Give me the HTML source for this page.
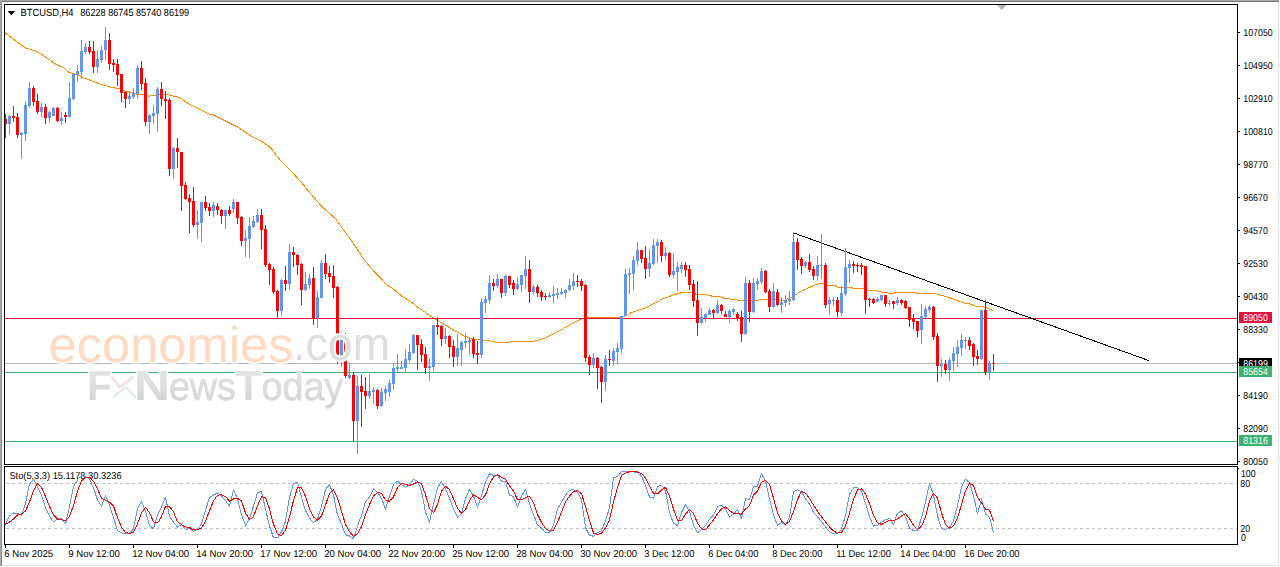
<!DOCTYPE html>
<html><head><meta charset="utf-8"><title>BTCUSD H4</title>
<style>html,body{margin:0;padding:0;background:#fff;overflow:hidden}body{width:1280px;height:567px;font-family:"Liberation Sans",sans-serif}</style></head>
<body>
<svg width="1280" height="567" viewBox="0 0 1280 567" style="display:block;font-family:'Liberation Sans',sans-serif;text-rendering:geometricPrecision">
<rect x="0" y="0" width="1280" height="567" fill="#fff"/>
<g shape-rendering="crispEdges">
<rect x="0" y="0" width="1279" height="1" fill="#a9a9a9"/>
<rect x="0" y="1" width="1279" height="1" fill="#747474"/>
<rect x="0" y="0" width="1" height="566" fill="#a9a9a9"/>
<rect x="1" y="1" width="1" height="565" fill="#8c8c8c"/>
<rect x="1278" y="2" width="1" height="564" fill="#e3e3e3"/>
<rect x="2" y="565" width="1277" height="1" fill="#e3e3e3"/>
</g>
<polyline points="5.0,32.5 7.0,34.5 10.8,37.3 14.9,40.4 19.0,43.5 22.9,46.3 26.0,48.4 30.5,49.3 33.7,50.5 38.1,52.4 43.2,55.4 55.0,63.8 64.0,68.1 69.0,72.5 76.5,74.4 82.8,77.5 92.8,81.2 101.5,84.6 111.5,87.3 120.0,88.8 125.0,91.0 132.5,92.5 137.5,94.4 145.0,94.8 148.8,96.2 151.8,95.8 156.8,95.4 160.5,94.1 166.8,94.1 170.5,95.8 175.5,96.2 180.5,98.2 189.2,104.1 198.0,108.5 209.2,114.1 213.0,114.8 223.0,119.8 236.8,126.6 250.5,135.6 260.5,140.6 268.0,145.6 271.8,149.4 279.2,158.8 283.6,163.8 292.7,172.7 303.0,184.4 307.4,190.0 311.7,194.9 322.9,207.6 335.6,218.7 343.5,229.8 351.1,240.0 364.2,260.0 375.5,273.1 387.8,285.6 392.7,288.6 402.2,296.5 410.2,301.3 419.7,308.6 430.8,316.2 438.0,320.6 449.2,327.5 458.0,332.5 464.2,336.0 472.5,339.0 478.8,339.4 487.5,340.6 496.2,342.2 510.0,342.2 511.2,341.2 533.8,341.2 538.8,340.0 545.0,338.1 552.5,334.4 560.0,330.6 566.2,326.9 572.5,323.1 578.8,320.0 583.8,318.5 591.2,317.5 618.8,317.5 626.9,315.6 631.2,312.5 645.0,308.1 653.8,303.8 662.5,298.8 670.0,296.2 675.0,294.4 683.8,292.2 692.5,292.2 696.2,294.4 703.8,294.4 712.5,296.2 720.0,296.5 723.8,298.1 732.5,299.4 741.2,300.6 758.8,300.6 759.4,299.0 775.0,299.0 778.8,300.6 783.8,300.6 787.5,298.8 791.2,297.5 795.0,295.0 803.8,289.8 812.5,286.2 820.0,283.1 825.0,283.1 827.5,285.0 835.0,285.6 837.5,287.2 851.2,287.2 852.5,288.1 866.2,288.5 868.0,290.2 875.0,290.2 880.0,291.9 887.5,292.5 888.8,293.5 893.8,293.5 895.6,292.2 915.0,292.5 917.0,293.5 935.0,293.5 940.0,295.0 947.5,296.9 957.5,300.6 965.0,303.5 970.0,304.0 976.2,306.5 983.8,306.9 988.8,308.8 992.8,310.6" fill="none" stroke="#FF8C00" stroke-width="1" stroke-linejoin="round" shape-rendering="crispEdges"/>
<g shape-rendering="crispEdges">
<rect x="5" y="363" width="1232" height="1" fill="#b8b8b8"/>
<rect x="5" y="318" width="1232" height="1" fill="#DC143C"/>
<rect x="5" y="372" width="1232" height="1" fill="#3CB371"/>
<rect x="5" y="441" width="1232" height="1" fill="#3CB371"/>
<rect x="591" y="317" width="8" height="1" fill="#FF8C00"/>
</g>
<line x1="793.5" y1="232.9" x2="1149" y2="360.6" stroke="#000" stroke-width="1" shape-rendering="crispEdges"/>
<g shape-rendering="crispEdges">
<rect x="5" y="114" width="1" height="24" fill="#FF0000"/>
<rect x="4" y="119" width="3" height="5" fill="#FF0000"/>
<rect x="9" y="115" width="1" height="20" fill="#6495ED"/>
<rect x="8" y="116" width="3" height="8" fill="#6495ED"/>
<rect x="13" y="106" width="1" height="16" fill="#FF0000"/>
<rect x="12" y="116" width="3" height="2" fill="#FF0000"/>
<rect x="17" y="113" width="1" height="25" fill="#FF0000"/>
<rect x="16" y="117" width="3" height="18" fill="#FF0000"/>
<rect x="21" y="132" width="1" height="27" fill="#6495ED"/>
<rect x="20" y="133" width="3" height="2" fill="#6495ED"/>
<rect x="25" y="101" width="1" height="40" fill="#6495ED"/>
<rect x="24" y="105" width="3" height="29" fill="#6495ED"/>
<rect x="29" y="82" width="1" height="26" fill="#6495ED"/>
<rect x="28" y="88" width="3" height="18" fill="#6495ED"/>
<rect x="33" y="86" width="1" height="20" fill="#FF0000"/>
<rect x="32" y="88" width="3" height="14" fill="#FF0000"/>
<rect x="37" y="94" width="1" height="20" fill="#FF0000"/>
<rect x="36" y="101" width="3" height="11" fill="#FF0000"/>
<rect x="41" y="103" width="1" height="14" fill="#6495ED"/>
<rect x="40" y="107" width="3" height="5" fill="#6495ED"/>
<rect x="45" y="104" width="1" height="20" fill="#FF0000"/>
<rect x="44" y="107" width="3" height="11" fill="#FF0000"/>
<rect x="49" y="111" width="1" height="12" fill="#6495ED"/>
<rect x="48" y="112" width="3" height="6" fill="#6495ED"/>
<rect x="53" y="107" width="1" height="9" fill="#6495ED"/>
<rect x="52" y="108" width="3" height="8" fill="#6495ED"/>
<rect x="57" y="107" width="1" height="15" fill="#FF0000"/>
<rect x="56" y="108" width="3" height="13" fill="#FF0000"/>
<rect x="61" y="112" width="1" height="13" fill="#6495ED"/>
<rect x="60" y="118" width="3" height="3" fill="#6495ED"/>
<rect x="65" y="112" width="1" height="11" fill="#FF0000"/>
<rect x="64" y="115" width="3" height="2" fill="#FF0000"/>
<rect x="69" y="82" width="1" height="35" fill="#6495ED"/>
<rect x="68" y="98" width="3" height="19" fill="#6495ED"/>
<rect x="73" y="73" width="1" height="27" fill="#6495ED"/>
<rect x="72" y="74" width="3" height="25" fill="#6495ED"/>
<rect x="77" y="65" width="1" height="17" fill="#6495ED"/>
<rect x="76" y="71" width="3" height="4" fill="#6495ED"/>
<rect x="81" y="40" width="1" height="39" fill="#6495ED"/>
<rect x="80" y="51" width="3" height="21" fill="#6495ED"/>
<rect x="85" y="43" width="1" height="11" fill="#6495ED"/>
<rect x="84" y="47" width="3" height="5" fill="#6495ED"/>
<rect x="89" y="41" width="1" height="13" fill="#FF0000"/>
<rect x="88" y="47" width="3" height="5" fill="#FF0000"/>
<rect x="93" y="41" width="1" height="32" fill="#FF0000"/>
<rect x="92" y="51" width="3" height="16" fill="#FF0000"/>
<rect x="97" y="50" width="1" height="23" fill="#6495ED"/>
<rect x="96" y="59" width="3" height="8" fill="#6495ED"/>
<rect x="101" y="46" width="1" height="17" fill="#6495ED"/>
<rect x="100" y="50" width="3" height="10" fill="#6495ED"/>
<rect x="105" y="27" width="1" height="33" fill="#6495ED"/>
<rect x="104" y="40" width="3" height="10" fill="#6495ED"/>
<rect x="109" y="33" width="1" height="37" fill="#FF0000"/>
<rect x="108" y="40" width="3" height="24" fill="#FF0000"/>
<rect x="113" y="59" width="1" height="13" fill="#FF0000"/>
<rect x="112" y="63" width="3" height="2" fill="#FF0000"/>
<rect x="117" y="59" width="1" height="27" fill="#FF0000"/>
<rect x="116" y="64" width="3" height="11" fill="#FF0000"/>
<rect x="121" y="74" width="1" height="28" fill="#FF0000"/>
<rect x="120" y="74" width="3" height="19" fill="#FF0000"/>
<rect x="125" y="91" width="1" height="17" fill="#FF0000"/>
<rect x="124" y="92" width="3" height="7" fill="#FF0000"/>
<rect x="129" y="92" width="1" height="12" fill="#6495ED"/>
<rect x="128" y="96" width="3" height="3" fill="#6495ED"/>
<rect x="133" y="88" width="1" height="11" fill="#6495ED"/>
<rect x="132" y="93" width="3" height="4" fill="#6495ED"/>
<rect x="137" y="65" width="1" height="34" fill="#6495ED"/>
<rect x="136" y="68" width="3" height="26" fill="#6495ED"/>
<rect x="141" y="61" width="1" height="29" fill="#FF0000"/>
<rect x="140" y="68" width="3" height="16" fill="#FF0000"/>
<rect x="145" y="78" width="1" height="48" fill="#FF0000"/>
<rect x="144" y="83" width="3" height="39" fill="#FF0000"/>
<rect x="149" y="114" width="1" height="20" fill="#6495ED"/>
<rect x="148" y="115" width="3" height="7" fill="#6495ED"/>
<rect x="153" y="105" width="1" height="19" fill="#6495ED"/>
<rect x="152" y="113" width="3" height="3" fill="#6495ED"/>
<rect x="157" y="87" width="1" height="45" fill="#6495ED"/>
<rect x="156" y="89" width="3" height="25" fill="#6495ED"/>
<rect x="161" y="82" width="1" height="24" fill="#FF0000"/>
<rect x="160" y="89" width="3" height="10" fill="#FF0000"/>
<rect x="165" y="91" width="1" height="28" fill="#FF0000"/>
<rect x="164" y="99" width="3" height="2" fill="#FF0000"/>
<rect x="169" y="98" width="1" height="78" fill="#FF0000"/>
<rect x="168" y="100" width="3" height="69" fill="#FF0000"/>
<rect x="173" y="147" width="1" height="32" fill="#6495ED"/>
<rect x="172" y="148" width="3" height="21" fill="#6495ED"/>
<rect x="177" y="138" width="1" height="30" fill="#FF0000"/>
<rect x="176" y="148" width="3" height="4" fill="#FF0000"/>
<rect x="181" y="152" width="1" height="59" fill="#FF0000"/>
<rect x="180" y="152" width="3" height="34" fill="#FF0000"/>
<rect x="185" y="182" width="1" height="18" fill="#FF0000"/>
<rect x="184" y="185" width="3" height="14" fill="#FF0000"/>
<rect x="189" y="194" width="1" height="39" fill="#FF0000"/>
<rect x="188" y="198" width="3" height="4" fill="#FF0000"/>
<rect x="193" y="187" width="1" height="40" fill="#FF0000"/>
<rect x="192" y="201" width="3" height="24" fill="#FF0000"/>
<rect x="197" y="210" width="1" height="29" fill="#6495ED"/>
<rect x="196" y="222" width="3" height="3" fill="#6495ED"/>
<rect x="201" y="202" width="1" height="40" fill="#6495ED"/>
<rect x="200" y="202" width="3" height="21" fill="#6495ED"/>
<rect x="205" y="196" width="1" height="15" fill="#FF0000"/>
<rect x="204" y="202" width="3" height="6" fill="#FF0000"/>
<rect x="209" y="203" width="1" height="13" fill="#FF0000"/>
<rect x="208" y="207" width="3" height="4" fill="#FF0000"/>
<rect x="213" y="202" width="1" height="15" fill="#6495ED"/>
<rect x="212" y="205" width="3" height="6" fill="#6495ED"/>
<rect x="217" y="203" width="1" height="12" fill="#FF0000"/>
<rect x="216" y="206" width="3" height="4" fill="#FF0000"/>
<rect x="221" y="209" width="1" height="15" fill="#FF0000"/>
<rect x="220" y="210" width="3" height="6" fill="#FF0000"/>
<rect x="225" y="210" width="1" height="19" fill="#6495ED"/>
<rect x="224" y="210" width="3" height="6" fill="#6495ED"/>
<rect x="229" y="206" width="1" height="10" fill="#FF0000"/>
<rect x="228" y="210" width="3" height="4" fill="#FF0000"/>
<rect x="233" y="199" width="1" height="14" fill="#6495ED"/>
<rect x="232" y="202" width="3" height="7" fill="#6495ED"/>
<rect x="237" y="202" width="1" height="22" fill="#FF0000"/>
<rect x="236" y="202" width="3" height="16" fill="#FF0000"/>
<rect x="241" y="216" width="1" height="30" fill="#FF0000"/>
<rect x="240" y="217" width="3" height="24" fill="#FF0000"/>
<rect x="245" y="230" width="1" height="27" fill="#6495ED"/>
<rect x="244" y="238" width="3" height="3" fill="#6495ED"/>
<rect x="249" y="217" width="1" height="41" fill="#6495ED"/>
<rect x="248" y="226" width="3" height="13" fill="#6495ED"/>
<rect x="253" y="216" width="1" height="12" fill="#6495ED"/>
<rect x="252" y="221" width="3" height="6" fill="#6495ED"/>
<rect x="257" y="209" width="1" height="14" fill="#6495ED"/>
<rect x="256" y="215" width="3" height="7" fill="#6495ED"/>
<rect x="261" y="209" width="1" height="40" fill="#FF0000"/>
<rect x="260" y="215" width="3" height="15" fill="#FF0000"/>
<rect x="265" y="225" width="1" height="42" fill="#FF0000"/>
<rect x="264" y="229" width="3" height="36" fill="#FF0000"/>
<rect x="269" y="263" width="1" height="22" fill="#FF0000"/>
<rect x="268" y="264" width="3" height="6" fill="#FF0000"/>
<rect x="273" y="267" width="1" height="27" fill="#FF0000"/>
<rect x="272" y="269" width="3" height="23" fill="#FF0000"/>
<rect x="277" y="290" width="1" height="28" fill="#FF0000"/>
<rect x="276" y="291" width="3" height="20" fill="#FF0000"/>
<rect x="281" y="279" width="1" height="37" fill="#6495ED"/>
<rect x="280" y="280" width="3" height="31" fill="#6495ED"/>
<rect x="285" y="266" width="1" height="25" fill="#FF0000"/>
<rect x="284" y="280" width="3" height="4" fill="#FF0000"/>
<rect x="289" y="244" width="1" height="46" fill="#6495ED"/>
<rect x="288" y="252" width="3" height="32" fill="#6495ED"/>
<rect x="293" y="247" width="1" height="20" fill="#FF0000"/>
<rect x="292" y="252" width="3" height="3" fill="#FF0000"/>
<rect x="297" y="254" width="1" height="21" fill="#FF0000"/>
<rect x="296" y="255" width="3" height="10" fill="#FF0000"/>
<rect x="301" y="263" width="1" height="42" fill="#FF0000"/>
<rect x="300" y="264" width="3" height="26" fill="#FF0000"/>
<rect x="305" y="272" width="1" height="19" fill="#6495ED"/>
<rect x="304" y="284" width="3" height="6" fill="#6495ED"/>
<rect x="309" y="274" width="1" height="15" fill="#6495ED"/>
<rect x="308" y="278" width="3" height="7" fill="#6495ED"/>
<rect x="313" y="267" width="1" height="58" fill="#FF0000"/>
<rect x="312" y="278" width="3" height="40" fill="#FF0000"/>
<rect x="317" y="291" width="1" height="37" fill="#6495ED"/>
<rect x="316" y="297" width="3" height="21" fill="#6495ED"/>
<rect x="321" y="260" width="1" height="38" fill="#6495ED"/>
<rect x="320" y="263" width="3" height="35" fill="#6495ED"/>
<rect x="325" y="254" width="1" height="25" fill="#FF0000"/>
<rect x="324" y="263" width="3" height="11" fill="#FF0000"/>
<rect x="329" y="266" width="1" height="17" fill="#FF0000"/>
<rect x="328" y="273" width="3" height="4" fill="#FF0000"/>
<rect x="333" y="265" width="1" height="33" fill="#FF0000"/>
<rect x="332" y="276" width="3" height="12" fill="#FF0000"/>
<rect x="337" y="286" width="1" height="78" fill="#FF0000"/>
<rect x="336" y="287" width="3" height="68" fill="#FF0000"/>
<rect x="341" y="332" width="1" height="35" fill="#6495ED"/>
<rect x="340" y="336" width="3" height="20" fill="#6495ED"/>
<rect x="345" y="333" width="1" height="45" fill="#FF0000"/>
<rect x="344" y="336" width="3" height="40" fill="#FF0000"/>
<rect x="349" y="363" width="1" height="16" fill="#6495ED"/>
<rect x="348" y="375" width="3" height="3" fill="#6495ED"/>
<rect x="353" y="372" width="1" height="70" fill="#FF0000"/>
<rect x="352" y="375" width="3" height="46" fill="#FF0000"/>
<rect x="357" y="376" width="1" height="78" fill="#6495ED"/>
<rect x="356" y="386" width="3" height="35" fill="#6495ED"/>
<rect x="361" y="375" width="1" height="52" fill="#FF0000"/>
<rect x="360" y="386" width="3" height="6" fill="#FF0000"/>
<rect x="365" y="377" width="1" height="32" fill="#FF0000"/>
<rect x="364" y="391" width="3" height="5" fill="#FF0000"/>
<rect x="369" y="374" width="1" height="25" fill="#6495ED"/>
<rect x="368" y="391" width="3" height="5" fill="#6495ED"/>
<rect x="373" y="387" width="1" height="17" fill="#6495ED"/>
<rect x="372" y="390" width="3" height="2" fill="#6495ED"/>
<rect x="377" y="389" width="1" height="20" fill="#FF0000"/>
<rect x="376" y="390" width="3" height="16" fill="#FF0000"/>
<rect x="381" y="388" width="1" height="19" fill="#6495ED"/>
<rect x="380" y="392" width="3" height="14" fill="#6495ED"/>
<rect x="385" y="386" width="1" height="15" fill="#6495ED"/>
<rect x="384" y="389" width="3" height="4" fill="#6495ED"/>
<rect x="389" y="380" width="1" height="17" fill="#6495ED"/>
<rect x="388" y="383" width="3" height="9" fill="#6495ED"/>
<rect x="393" y="363" width="1" height="27" fill="#6495ED"/>
<rect x="392" y="368" width="3" height="16" fill="#6495ED"/>
<rect x="397" y="354" width="1" height="18" fill="#6495ED"/>
<rect x="396" y="367" width="3" height="2" fill="#6495ED"/>
<rect x="401" y="361" width="1" height="8" fill="#6495ED"/>
<rect x="400" y="367" width="3" height="2" fill="#6495ED"/>
<rect x="405" y="349" width="1" height="23" fill="#6495ED"/>
<rect x="404" y="359" width="3" height="9" fill="#6495ED"/>
<rect x="409" y="344" width="1" height="18" fill="#6495ED"/>
<rect x="408" y="352" width="3" height="8" fill="#6495ED"/>
<rect x="413" y="334" width="1" height="20" fill="#6495ED"/>
<rect x="412" y="335" width="3" height="18" fill="#6495ED"/>
<rect x="417" y="335" width="1" height="35" fill="#FF0000"/>
<rect x="416" y="335" width="3" height="10" fill="#FF0000"/>
<rect x="421" y="339" width="1" height="23" fill="#FF0000"/>
<rect x="420" y="344" width="3" height="11" fill="#FF0000"/>
<rect x="425" y="347" width="1" height="27" fill="#FF0000"/>
<rect x="424" y="354" width="3" height="14" fill="#FF0000"/>
<rect x="429" y="358" width="1" height="23" fill="#6495ED"/>
<rect x="428" y="366" width="3" height="2" fill="#6495ED"/>
<rect x="433" y="325" width="1" height="46" fill="#6495ED"/>
<rect x="432" y="325" width="3" height="42" fill="#6495ED"/>
<rect x="437" y="317" width="1" height="18" fill="#FF0000"/>
<rect x="436" y="325" width="3" height="2" fill="#FF0000"/>
<rect x="441" y="325" width="1" height="21" fill="#FF0000"/>
<rect x="440" y="326" width="3" height="13" fill="#FF0000"/>
<rect x="445" y="328" width="1" height="16" fill="#6495ED"/>
<rect x="444" y="336" width="3" height="3" fill="#6495ED"/>
<rect x="449" y="335" width="1" height="23" fill="#FF0000"/>
<rect x="448" y="336" width="3" height="11" fill="#FF0000"/>
<rect x="453" y="340" width="1" height="27" fill="#FF0000"/>
<rect x="452" y="346" width="3" height="11" fill="#FF0000"/>
<rect x="457" y="334" width="1" height="32" fill="#6495ED"/>
<rect x="456" y="348" width="3" height="9" fill="#6495ED"/>
<rect x="461" y="341" width="1" height="25" fill="#6495ED"/>
<rect x="460" y="342" width="3" height="8" fill="#6495ED"/>
<rect x="465" y="333" width="1" height="15" fill="#6495ED"/>
<rect x="464" y="341" width="3" height="2" fill="#6495ED"/>
<rect x="469" y="338" width="1" height="17" fill="#6495ED"/>
<rect x="468" y="340" width="3" height="2" fill="#6495ED"/>
<rect x="473" y="337" width="1" height="21" fill="#FF0000"/>
<rect x="472" y="339" width="3" height="15" fill="#FF0000"/>
<rect x="477" y="341" width="1" height="23" fill="#FF0000"/>
<rect x="476" y="353" width="3" height="2" fill="#FF0000"/>
<rect x="481" y="298" width="1" height="60" fill="#6495ED"/>
<rect x="480" y="302" width="3" height="53" fill="#6495ED"/>
<rect x="485" y="296" width="1" height="17" fill="#6495ED"/>
<rect x="484" y="299" width="3" height="4" fill="#6495ED"/>
<rect x="489" y="275" width="1" height="29" fill="#6495ED"/>
<rect x="488" y="283" width="3" height="17" fill="#6495ED"/>
<rect x="493" y="279" width="1" height="12" fill="#FF0000"/>
<rect x="492" y="283" width="3" height="3" fill="#FF0000"/>
<rect x="497" y="274" width="1" height="14" fill="#6495ED"/>
<rect x="496" y="279" width="3" height="7" fill="#6495ED"/>
<rect x="501" y="279" width="1" height="19" fill="#FF0000"/>
<rect x="500" y="279" width="3" height="14" fill="#FF0000"/>
<rect x="505" y="275" width="1" height="21" fill="#6495ED"/>
<rect x="504" y="276" width="3" height="17" fill="#6495ED"/>
<rect x="509" y="276" width="1" height="12" fill="#FF0000"/>
<rect x="508" y="276" width="3" height="9" fill="#FF0000"/>
<rect x="513" y="280" width="1" height="15" fill="#FF0000"/>
<rect x="512" y="283" width="3" height="6" fill="#FF0000"/>
<rect x="517" y="277" width="1" height="13" fill="#6495ED"/>
<rect x="516" y="284" width="3" height="5" fill="#6495ED"/>
<rect x="521" y="275" width="1" height="17" fill="#6495ED"/>
<rect x="520" y="275" width="3" height="10" fill="#6495ED"/>
<rect x="525" y="256" width="1" height="33" fill="#6495ED"/>
<rect x="524" y="269" width="3" height="7" fill="#6495ED"/>
<rect x="529" y="260" width="1" height="43" fill="#FF0000"/>
<rect x="528" y="269" width="3" height="23" fill="#FF0000"/>
<rect x="533" y="285" width="1" height="10" fill="#6495ED"/>
<rect x="532" y="287" width="3" height="5" fill="#6495ED"/>
<rect x="537" y="285" width="1" height="12" fill="#FF0000"/>
<rect x="536" y="287" width="3" height="6" fill="#FF0000"/>
<rect x="541" y="290" width="1" height="11" fill="#FF0000"/>
<rect x="540" y="292" width="3" height="5" fill="#FF0000"/>
<rect x="545" y="293" width="1" height="7" fill="#FF0000"/>
<rect x="544" y="296" width="3" height="1" fill="#FF0000"/>
<rect x="549" y="292" width="1" height="6" fill="#6495ED"/>
<rect x="548" y="295" width="3" height="2" fill="#6495ED"/>
<rect x="553" y="286" width="1" height="17" fill="#6495ED"/>
<rect x="552" y="294" width="3" height="2" fill="#6495ED"/>
<rect x="557" y="288" width="1" height="11" fill="#6495ED"/>
<rect x="556" y="293" width="3" height="2" fill="#6495ED"/>
<rect x="561" y="288" width="1" height="7" fill="#6495ED"/>
<rect x="560" y="292" width="3" height="2" fill="#6495ED"/>
<rect x="565" y="289" width="1" height="9" fill="#6495ED"/>
<rect x="564" y="290" width="3" height="3" fill="#6495ED"/>
<rect x="569" y="279" width="1" height="12" fill="#6495ED"/>
<rect x="568" y="285" width="3" height="5" fill="#6495ED"/>
<rect x="573" y="273" width="1" height="17" fill="#6495ED"/>
<rect x="572" y="281" width="3" height="5" fill="#6495ED"/>
<rect x="577" y="275" width="1" height="12" fill="#FF0000"/>
<rect x="576" y="281" width="3" height="1" fill="#FF0000"/>
<rect x="581" y="279" width="1" height="12" fill="#FF0000"/>
<rect x="580" y="281" width="3" height="5" fill="#FF0000"/>
<rect x="585" y="284" width="1" height="78" fill="#FF0000"/>
<rect x="584" y="285" width="3" height="73" fill="#FF0000"/>
<rect x="589" y="355" width="1" height="20" fill="#FF0000"/>
<rect x="588" y="357" width="3" height="8" fill="#FF0000"/>
<rect x="593" y="353" width="1" height="15" fill="#6495ED"/>
<rect x="592" y="358" width="3" height="7" fill="#6495ED"/>
<rect x="597" y="357" width="1" height="32" fill="#FF0000"/>
<rect x="596" y="358" width="3" height="10" fill="#FF0000"/>
<rect x="601" y="366" width="1" height="37" fill="#FF0000"/>
<rect x="600" y="367" width="3" height="15" fill="#FF0000"/>
<rect x="605" y="355" width="1" height="36" fill="#6495ED"/>
<rect x="604" y="359" width="3" height="23" fill="#6495ED"/>
<rect x="609" y="350" width="1" height="16" fill="#FF0000"/>
<rect x="608" y="359" width="3" height="1" fill="#FF0000"/>
<rect x="613" y="348" width="1" height="18" fill="#6495ED"/>
<rect x="612" y="351" width="3" height="10" fill="#6495ED"/>
<rect x="617" y="343" width="1" height="21" fill="#6495ED"/>
<rect x="616" y="348" width="3" height="4" fill="#6495ED"/>
<rect x="621" y="316" width="1" height="37" fill="#6495ED"/>
<rect x="620" y="316" width="3" height="33" fill="#6495ED"/>
<rect x="625" y="269" width="1" height="47" fill="#6495ED"/>
<rect x="624" y="274" width="3" height="42" fill="#6495ED"/>
<rect x="629" y="268" width="1" height="26" fill="#6495ED"/>
<rect x="628" y="273" width="3" height="2" fill="#6495ED"/>
<rect x="633" y="256" width="1" height="34" fill="#6495ED"/>
<rect x="632" y="260" width="3" height="14" fill="#6495ED"/>
<rect x="637" y="242" width="1" height="23" fill="#6495ED"/>
<rect x="636" y="250" width="3" height="11" fill="#6495ED"/>
<rect x="641" y="250" width="1" height="13" fill="#FF0000"/>
<rect x="640" y="250" width="3" height="9" fill="#FF0000"/>
<rect x="645" y="246" width="1" height="33" fill="#FF0000"/>
<rect x="644" y="258" width="3" height="11" fill="#FF0000"/>
<rect x="649" y="249" width="1" height="28" fill="#6495ED"/>
<rect x="648" y="263" width="3" height="6" fill="#6495ED"/>
<rect x="653" y="239" width="1" height="26" fill="#6495ED"/>
<rect x="652" y="245" width="3" height="19" fill="#6495ED"/>
<rect x="657" y="239" width="1" height="24" fill="#6495ED"/>
<rect x="656" y="242" width="3" height="4" fill="#6495ED"/>
<rect x="661" y="240" width="1" height="22" fill="#FF0000"/>
<rect x="660" y="242" width="3" height="14" fill="#FF0000"/>
<rect x="665" y="247" width="1" height="13" fill="#6495ED"/>
<rect x="664" y="253" width="3" height="3" fill="#6495ED"/>
<rect x="669" y="252" width="1" height="25" fill="#FF0000"/>
<rect x="668" y="253" width="3" height="22" fill="#FF0000"/>
<rect x="673" y="253" width="1" height="25" fill="#6495ED"/>
<rect x="672" y="271" width="3" height="4" fill="#6495ED"/>
<rect x="677" y="262" width="1" height="29" fill="#6495ED"/>
<rect x="676" y="267" width="3" height="5" fill="#6495ED"/>
<rect x="681" y="262" width="1" height="11" fill="#6495ED"/>
<rect x="680" y="265" width="3" height="4" fill="#6495ED"/>
<rect x="685" y="262" width="1" height="15" fill="#FF0000"/>
<rect x="684" y="265" width="3" height="5" fill="#FF0000"/>
<rect x="689" y="265" width="1" height="25" fill="#FF0000"/>
<rect x="688" y="269" width="3" height="16" fill="#FF0000"/>
<rect x="693" y="280" width="1" height="27" fill="#FF0000"/>
<rect x="692" y="284" width="3" height="17" fill="#FF0000"/>
<rect x="697" y="281" width="1" height="55" fill="#FF0000"/>
<rect x="696" y="300" width="3" height="23" fill="#FF0000"/>
<rect x="701" y="308" width="1" height="16" fill="#6495ED"/>
<rect x="700" y="317" width="3" height="6" fill="#6495ED"/>
<rect x="705" y="313" width="1" height="9" fill="#6495ED"/>
<rect x="704" y="314" width="3" height="4" fill="#6495ED"/>
<rect x="709" y="308" width="1" height="7" fill="#6495ED"/>
<rect x="708" y="310" width="3" height="5" fill="#6495ED"/>
<rect x="713" y="309" width="1" height="9" fill="#FF0000"/>
<rect x="712" y="310" width="3" height="3" fill="#FF0000"/>
<rect x="717" y="300" width="1" height="14" fill="#6495ED"/>
<rect x="716" y="305" width="3" height="8" fill="#6495ED"/>
<rect x="721" y="304" width="1" height="10" fill="#FF0000"/>
<rect x="720" y="305" width="3" height="6" fill="#FF0000"/>
<rect x="725" y="311" width="1" height="6" fill="#FF0000"/>
<rect x="724" y="314" width="3" height="3" fill="#FF0000"/>
<rect x="729" y="309" width="1" height="14" fill="#6495ED"/>
<rect x="728" y="311" width="3" height="6" fill="#6495ED"/>
<rect x="733" y="308" width="1" height="7" fill="#6495ED"/>
<rect x="732" y="309" width="3" height="3" fill="#6495ED"/>
<rect x="737" y="312" width="1" height="9" fill="#FF0000"/>
<rect x="736" y="314" width="3" height="4" fill="#FF0000"/>
<rect x="741" y="311" width="1" height="31" fill="#FF0000"/>
<rect x="740" y="317" width="3" height="17" fill="#FF0000"/>
<rect x="745" y="277" width="1" height="58" fill="#6495ED"/>
<rect x="744" y="283" width="3" height="51" fill="#6495ED"/>
<rect x="749" y="280" width="1" height="42" fill="#FF0000"/>
<rect x="748" y="283" width="3" height="29" fill="#FF0000"/>
<rect x="753" y="278" width="1" height="35" fill="#6495ED"/>
<rect x="752" y="283" width="3" height="29" fill="#6495ED"/>
<rect x="757" y="278" width="1" height="12" fill="#6495ED"/>
<rect x="756" y="281" width="3" height="3" fill="#6495ED"/>
<rect x="761" y="268" width="1" height="16" fill="#6495ED"/>
<rect x="760" y="271" width="3" height="11" fill="#6495ED"/>
<rect x="765" y="270" width="1" height="23" fill="#FF0000"/>
<rect x="764" y="271" width="3" height="21" fill="#FF0000"/>
<rect x="769" y="289" width="1" height="23" fill="#FF0000"/>
<rect x="768" y="291" width="3" height="16" fill="#FF0000"/>
<rect x="773" y="283" width="1" height="25" fill="#6495ED"/>
<rect x="772" y="291" width="3" height="16" fill="#6495ED"/>
<rect x="777" y="289" width="1" height="17" fill="#FF0000"/>
<rect x="776" y="292" width="3" height="13" fill="#FF0000"/>
<rect x="781" y="297" width="1" height="16" fill="#6495ED"/>
<rect x="780" y="302" width="3" height="3" fill="#6495ED"/>
<rect x="785" y="295" width="1" height="12" fill="#6495ED"/>
<rect x="784" y="300" width="3" height="3" fill="#6495ED"/>
<rect x="789" y="291" width="1" height="14" fill="#6495ED"/>
<rect x="788" y="299" width="3" height="2" fill="#6495ED"/>
<rect x="793" y="232" width="1" height="69" fill="#6495ED"/>
<rect x="792" y="242" width="3" height="58" fill="#6495ED"/>
<rect x="797" y="238" width="1" height="32" fill="#FF0000"/>
<rect x="796" y="242" width="3" height="18" fill="#FF0000"/>
<rect x="801" y="257" width="1" height="17" fill="#FF0000"/>
<rect x="800" y="259" width="3" height="7" fill="#FF0000"/>
<rect x="805" y="261" width="1" height="7" fill="#6495ED"/>
<rect x="804" y="262" width="3" height="4" fill="#6495ED"/>
<rect x="809" y="254" width="1" height="18" fill="#FF0000"/>
<rect x="808" y="262" width="3" height="8" fill="#FF0000"/>
<rect x="813" y="266" width="1" height="14" fill="#FF0000"/>
<rect x="812" y="269" width="3" height="7" fill="#FF0000"/>
<rect x="817" y="256" width="1" height="25" fill="#6495ED"/>
<rect x="816" y="265" width="3" height="11" fill="#6495ED"/>
<rect x="821" y="234" width="1" height="45" fill="#6495ED"/>
<rect x="820" y="265" width="3" height="1" fill="#6495ED"/>
<rect x="825" y="263" width="1" height="45" fill="#FF0000"/>
<rect x="824" y="265" width="3" height="40" fill="#FF0000"/>
<rect x="829" y="297" width="1" height="18" fill="#6495ED"/>
<rect x="828" y="300" width="3" height="4" fill="#6495ED"/>
<rect x="833" y="297" width="1" height="9" fill="#6495ED"/>
<rect x="832" y="300" width="3" height="1" fill="#6495ED"/>
<rect x="837" y="297" width="1" height="20" fill="#FF0000"/>
<rect x="836" y="300" width="3" height="12" fill="#FF0000"/>
<rect x="841" y="286" width="1" height="30" fill="#6495ED"/>
<rect x="840" y="293" width="3" height="20" fill="#6495ED"/>
<rect x="845" y="248" width="1" height="48" fill="#6495ED"/>
<rect x="844" y="267" width="3" height="27" fill="#6495ED"/>
<rect x="849" y="260" width="1" height="23" fill="#6495ED"/>
<rect x="848" y="264" width="3" height="4" fill="#6495ED"/>
<rect x="853" y="261" width="1" height="12" fill="#FF0000"/>
<rect x="852" y="264" width="3" height="2" fill="#FF0000"/>
<rect x="857" y="263" width="1" height="9" fill="#FF0000"/>
<rect x="856" y="265" width="3" height="1" fill="#FF0000"/>
<rect x="861" y="263" width="1" height="12" fill="#FF0000"/>
<rect x="860" y="265" width="3" height="2" fill="#FF0000"/>
<rect x="865" y="266" width="1" height="48" fill="#FF0000"/>
<rect x="864" y="266" width="3" height="34" fill="#FF0000"/>
<rect x="869" y="298" width="1" height="9" fill="#FF0000"/>
<rect x="868" y="299" width="3" height="1" fill="#FF0000"/>
<rect x="873" y="298" width="1" height="6" fill="#FF0000"/>
<rect x="872" y="299" width="3" height="4" fill="#FF0000"/>
<rect x="877" y="297" width="1" height="5" fill="#6495ED"/>
<rect x="876" y="299" width="3" height="3" fill="#6495ED"/>
<rect x="881" y="295" width="1" height="6" fill="#6495ED"/>
<rect x="880" y="295" width="3" height="5" fill="#6495ED"/>
<rect x="885" y="295" width="1" height="12" fill="#FF0000"/>
<rect x="884" y="295" width="3" height="9" fill="#FF0000"/>
<rect x="889" y="300" width="1" height="6" fill="#6495ED"/>
<rect x="888" y="303" width="3" height="1" fill="#6495ED"/>
<rect x="893" y="301" width="1" height="8" fill="#FF0000"/>
<rect x="892" y="301" width="3" height="3" fill="#FF0000"/>
<rect x="897" y="297" width="1" height="8" fill="#6495ED"/>
<rect x="896" y="300" width="3" height="3" fill="#6495ED"/>
<rect x="901" y="299" width="1" height="6" fill="#FF0000"/>
<rect x="900" y="300" width="3" height="3" fill="#FF0000"/>
<rect x="905" y="300" width="1" height="9" fill="#FF0000"/>
<rect x="904" y="301" width="3" height="7" fill="#FF0000"/>
<rect x="909" y="307" width="1" height="20" fill="#FF0000"/>
<rect x="908" y="307" width="3" height="13" fill="#FF0000"/>
<rect x="913" y="314" width="1" height="15" fill="#FF0000"/>
<rect x="912" y="318" width="3" height="4" fill="#FF0000"/>
<rect x="917" y="321" width="1" height="16" fill="#FF0000"/>
<rect x="916" y="321" width="3" height="10" fill="#FF0000"/>
<rect x="921" y="304" width="1" height="40" fill="#6495ED"/>
<rect x="920" y="316" width="3" height="14" fill="#6495ED"/>
<rect x="925" y="306" width="1" height="12" fill="#6495ED"/>
<rect x="924" y="309" width="3" height="8" fill="#6495ED"/>
<rect x="929" y="305" width="1" height="8" fill="#6495ED"/>
<rect x="928" y="307" width="3" height="3" fill="#6495ED"/>
<rect x="933" y="306" width="1" height="34" fill="#FF0000"/>
<rect x="932" y="307" width="3" height="30" fill="#FF0000"/>
<rect x="937" y="333" width="1" height="49" fill="#FF0000"/>
<rect x="936" y="336" width="3" height="30" fill="#FF0000"/>
<rect x="941" y="359" width="1" height="18" fill="#6495ED"/>
<rect x="940" y="364" width="3" height="2" fill="#6495ED"/>
<rect x="945" y="360" width="1" height="14" fill="#FF0000"/>
<rect x="944" y="364" width="3" height="6" fill="#FF0000"/>
<rect x="949" y="358" width="1" height="23" fill="#6495ED"/>
<rect x="948" y="360" width="3" height="10" fill="#6495ED"/>
<rect x="953" y="347" width="1" height="24" fill="#6495ED"/>
<rect x="952" y="353" width="3" height="8" fill="#6495ED"/>
<rect x="957" y="340" width="1" height="27" fill="#6495ED"/>
<rect x="956" y="347" width="3" height="7" fill="#6495ED"/>
<rect x="961" y="334" width="1" height="22" fill="#6495ED"/>
<rect x="960" y="340" width="3" height="8" fill="#6495ED"/>
<rect x="965" y="337" width="1" height="12" fill="#6495ED"/>
<rect x="964" y="340" width="3" height="1" fill="#6495ED"/>
<rect x="969" y="337" width="1" height="13" fill="#FF0000"/>
<rect x="968" y="340" width="3" height="6" fill="#FF0000"/>
<rect x="973" y="343" width="1" height="23" fill="#FF0000"/>
<rect x="972" y="344" width="3" height="13" fill="#FF0000"/>
<rect x="977" y="350" width="1" height="15" fill="#FF0000"/>
<rect x="976" y="356" width="3" height="3" fill="#FF0000"/>
<rect x="981" y="310" width="1" height="50" fill="#6495ED"/>
<rect x="980" y="310" width="3" height="49" fill="#6495ED"/>
<rect x="985" y="300" width="1" height="75" fill="#FF0000"/>
<rect x="984" y="310" width="3" height="62" fill="#FF0000"/>
<rect x="989" y="361" width="1" height="19" fill="#6495ED"/>
<rect x="988" y="363" width="3" height="9" fill="#6495ED"/>
<rect x="993" y="354" width="1" height="17" fill="#FF0000"/>
<rect x="992" y="363" width="3" height="1" fill="#FF0000"/>
</g>
<g shape-rendering="crispEdges">
<line x1="6" y1="483.5" x2="1237" y2="483.5" stroke="#c0c0c0" stroke-width="1" stroke-dasharray="3 3"/>
<line x1="6" y1="528.5" x2="1237" y2="528.5" stroke="#c0c0c0" stroke-width="1" stroke-dasharray="3 3"/>
</g>
<text x="9.4" y="479" font-size="10" fill="#000" textLength="112.2" lengthAdjust="spacingAndGlyphs" xml:space="preserve">Sto(5,3,3) 15.1178 30.3236</text>
<polyline points="5.5,523.7 9.5,516.0 13.5,513.0 17.5,513.5 21.5,515.0 25.5,504.0 29.5,484.0 33.5,479.3 37.5,486.9 41.5,495.3 45.5,507.5 49.5,516.5 53.5,521.8 57.5,519.1 61.5,518.5 65.5,523.8 69.5,506.5 73.5,486.9 77.5,479.8 81.5,475.5 85.5,476.8 89.5,478.9 93.5,488.1 97.5,500.0 101.5,506.0 105.5,495.5 109.5,505.1 113.5,517.4 117.5,530.8 121.5,532.9 125.5,534.0 129.5,533.2 133.5,528.9 137.5,508.7 141.5,501.6 145.5,511.4 149.5,525.4 153.5,528.7 157.5,515.0 161.5,506.6 165.5,497.2 169.5,516.4 173.5,522.2 177.5,527.2 181.5,524.2 185.5,529.5 189.5,528.5 193.5,531.5 197.5,529.0 201.5,524.0 205.5,510.3 209.5,497.7 213.5,495.0 217.5,493.0 221.5,496.1 225.5,500.6 229.5,506.5 233.5,489.8 237.5,498.9 241.5,514.7 245.5,525.3 249.5,518.8 253.5,506.0 257.5,492.7 261.5,491.3 265.5,509.2 269.5,526.0 273.5,537.9 277.5,537.6 281.5,531.9 285.5,521.1 289.5,497.3 293.5,483.5 297.5,482.3 301.5,497.2 305.5,510.5 309.5,518.1 313.5,522.6 317.5,519.2 321.5,506.2 325.5,489.5 329.5,484.7 333.5,494.9 337.5,515.0 341.5,523.9 345.5,534.7 349.5,535.9 353.5,538.8 357.5,526.1 361.5,515.5 365.5,501.6 369.5,497.1 373.5,488.9 377.5,492.2 381.5,498.5 385.5,509.1 389.5,496.6 393.5,484.6 397.5,481.1 401.5,484.8 405.5,487.1 409.5,485.3 413.5,479.5 417.5,481.1 421.5,490.8 425.5,512.3 429.5,522.0 433.5,503.9 437.5,487.7 441.5,481.8 445.5,488.7 449.5,498.2 453.5,509.0 457.5,517.3 461.5,513.6 465.5,498.6 469.5,489.4 473.5,496.1 477.5,507.2 481.5,495.8 485.5,481.8 489.5,473.6 493.5,475.3 497.5,475.4 501.5,481.1 505.5,481.5 509.5,495.2 513.5,496.5 517.5,507.1 521.5,496.2 525.5,489.1 529.5,503.8 533.5,514.7 537.5,525.0 541.5,527.7 545.5,532.9 549.5,532.6 553.5,525.3 557.5,509.1 561.5,502.2 565.5,495.1 569.5,490.3 573.5,489.6 577.5,492.5 581.5,499.3 585.5,527.5 589.5,535.4 593.5,536.2 597.5,532.6 601.5,530.6 605.5,520.9 609.5,507.5 613.5,477.7 617.5,476.7 621.5,471.7 625.5,471.8 629.5,471.3 633.5,472.0 637.5,472.6 641.5,476.0 645.5,485.2 649.5,497.0 653.5,498.1 657.5,486.5 661.5,485.2 665.5,490.7 669.5,513.0 673.5,523.4 677.5,525.5 681.5,512.6 685.5,504.6 689.5,511.7 693.5,524.6 697.5,532.8 701.5,529.7 705.5,525.8 709.5,519.3 713.5,515.0 717.5,506.6 721.5,505.2 725.5,509.1 729.5,517.2 733.5,514.0 737.5,509.6 741.5,518.8 745.5,498.5 749.5,499.7 753.5,486.9 757.5,486.1 761.5,473.5 765.5,481.2 769.5,498.9 773.5,514.6 777.5,525.6 781.5,522.4 785.5,525.1 789.5,517.2 793.5,491.9 797.5,489.9 801.5,491.6 805.5,499.0 809.5,504.2 813.5,512.4 817.5,516.8 821.5,521.6 825.5,526.9 829.5,531.8 833.5,533.8 837.5,533.6 841.5,529.2 845.5,515.4 849.5,494.3 853.5,488.0 857.5,487.7 861.5,491.2 865.5,503.1 869.5,516.9 873.5,526.1 877.5,525.2 881.5,522.1 885.5,519.9 889.5,518.5 893.5,524.2 897.5,513.1 901.5,510.8 905.5,517.1 909.5,527.9 913.5,530.8 917.5,530.4 921.5,517.8 925.5,501.9 929.5,483.4 933.5,494.8 937.5,515.9 941.5,528.7 945.5,529.4 949.5,527.3 953.5,520.9 957.5,505.8 961.5,487.0 965.5,479.3 969.5,482.6 973.5,495.5 977.5,514.0 981.5,499.0 985.5,514.0 989.5,517.2 993.5,532.8" fill="none" stroke="#6495ED" stroke-width="1" stroke-linejoin="round" shape-rendering="crispEdges"/>
<polyline points="5.5,524.5 9.5,522.0 13.5,519.0 17.5,515.0 21.5,514.0 25.5,511.0 29.5,502.0 33.5,491.0 37.5,483.5 41.5,487.2 45.5,496.6 49.5,506.4 53.5,515.2 57.5,519.1 61.5,519.8 65.5,520.4 69.5,516.2 73.5,505.7 77.5,491.1 81.5,480.8 85.5,477.4 89.5,477.1 93.5,481.3 97.5,489.0 101.5,498.0 105.5,500.5 109.5,502.2 113.5,506.0 117.5,517.8 121.5,527.0 125.5,532.6 129.5,533.4 133.5,532.0 137.5,523.6 141.5,513.1 145.5,507.2 149.5,512.8 153.5,521.8 157.5,523.0 161.5,516.8 165.5,506.2 169.5,506.7 173.5,511.9 177.5,521.9 181.5,524.5 185.5,527.0 189.5,527.4 193.5,529.8 197.5,529.7 201.5,528.2 205.5,521.1 209.5,510.7 213.5,501.0 217.5,495.2 221.5,494.7 225.5,496.6 229.5,501.1 233.5,499.0 237.5,498.4 241.5,501.1 245.5,512.9 249.5,519.6 253.5,516.7 257.5,505.8 261.5,496.7 265.5,497.8 269.5,508.8 273.5,524.4 277.5,533.8 281.5,535.8 285.5,530.2 289.5,516.7 293.5,500.6 297.5,487.7 301.5,487.7 305.5,496.7 309.5,508.6 313.5,517.1 317.5,520.0 321.5,516.0 325.5,504.9 329.5,493.4 333.5,489.7 337.5,498.2 341.5,511.2 345.5,524.5 349.5,531.5 353.5,536.5 357.5,533.6 361.5,526.8 365.5,514.4 369.5,504.7 373.5,495.9 377.5,492.7 381.5,493.2 385.5,499.9 389.5,501.4 393.5,496.8 397.5,487.4 401.5,483.5 405.5,484.3 409.5,485.7 413.5,484.0 417.5,482.0 421.5,483.8 425.5,494.7 429.5,508.4 433.5,512.7 437.5,504.5 441.5,491.1 445.5,486.1 449.5,489.6 453.5,498.6 457.5,508.2 461.5,513.3 465.5,509.8 469.5,500.6 473.5,494.7 477.5,497.5 481.5,499.7 485.5,494.9 489.5,483.7 493.5,476.9 497.5,474.8 501.5,477.3 505.5,479.3 509.5,485.9 513.5,491.1 517.5,499.6 521.5,499.9 525.5,497.5 529.5,496.4 533.5,502.5 537.5,514.5 541.5,522.5 545.5,528.5 549.5,531.1 553.5,530.2 557.5,522.3 561.5,512.2 565.5,502.1 569.5,495.9 573.5,491.7 577.5,490.8 581.5,493.8 585.5,506.4 589.5,520.7 593.5,533.0 597.5,534.7 601.5,533.1 605.5,528.0 609.5,519.7 613.5,502.1 617.5,487.3 621.5,475.4 625.5,473.4 629.5,471.6 633.5,471.7 637.5,472.0 641.5,473.5 645.5,477.9 649.5,486.1 653.5,493.4 657.5,493.9 661.5,489.9 665.5,487.4 669.5,496.3 673.5,509.0 677.5,520.6 681.5,520.5 685.5,514.2 689.5,509.6 693.5,513.6 697.5,523.0 701.5,529.0 705.5,529.4 709.5,524.9 713.5,520.0 717.5,513.6 721.5,508.9 725.5,507.0 729.5,510.5 733.5,513.4 737.5,513.6 741.5,514.2 745.5,509.0 749.5,505.7 753.5,495.0 757.5,490.9 761.5,482.2 765.5,480.3 769.5,484.5 773.5,498.2 777.5,513.0 781.5,520.9 785.5,524.4 789.5,521.6 793.5,511.4 797.5,499.7 801.5,491.1 805.5,493.5 809.5,498.3 813.5,505.2 817.5,511.2 821.5,517.0 825.5,521.8 829.5,526.8 833.5,530.9 837.5,533.1 841.5,532.2 845.5,526.1 849.5,513.0 853.5,499.2 857.5,490.0 861.5,489.0 865.5,494.0 869.5,503.7 873.5,515.3 877.5,522.7 881.5,524.5 885.5,522.4 889.5,520.2 893.5,520.9 897.5,518.6 901.5,516.0 905.5,513.7 909.5,518.6 913.5,525.3 917.5,529.7 921.5,526.3 925.5,516.7 929.5,501.0 933.5,493.4 937.5,498.0 941.5,513.1 945.5,524.7 949.5,528.5 953.5,525.9 957.5,518.0 961.5,504.5 965.5,490.7 969.5,482.9 973.5,485.8 977.5,497.3 981.5,502.8 985.5,509.0 989.5,510.1 993.5,521.3" fill="none" stroke="#FF0000" stroke-width="1" stroke-linejoin="round" shape-rendering="crispEdges"/>
<defs><filter id="bl" x="-5%" y="-20%" width="110%" height="140%"><feGaussianBlur stdDeviation="0.45"/></filter></defs>
<g id="wm" filter="url(#bl)">
<text x="48.5" y="361.5" font-size="50" fill="#fff" stroke="#fff" stroke-width="3" stroke-linejoin="round" textLength="245" lengthAdjust="spacingAndGlyphs">economies</text>
<text x="293" y="360.2" font-size="47" fill="#fff" stroke="#fff" stroke-width="3.4" stroke-linejoin="round" textLength="97" lengthAdjust="spacingAndGlyphs">.com</text>
<text x="48.5" y="361.5" font-size="50" fill="#FFDAC2" textLength="245" lengthAdjust="spacingAndGlyphs">economies</text>
<text x="293" y="360.2" font-size="47" fill="#DEDEDE" textLength="97" lengthAdjust="spacingAndGlyphs">.com</text>
<defs><linearGradient id="wg" x1="0" y1="368" x2="0" y2="406" gradientUnits="userSpaceOnUse"><stop offset="0" stop-color="#E6E6E6"/><stop offset="1" stop-color="#D2D2D2"/></linearGradient></defs>
<text x="87.0" y="399.6" font-size="42" font-weight="bold" fill="#fff" stroke="#fff" stroke-width="2.6" stroke-linejoin="round" textLength="24.9" lengthAdjust="spacingAndGlyphs">F</text>
<text x="133.95" y="399.6" font-size="42" font-weight="bold" fill="#fff" stroke="#fff" stroke-width="2.6" stroke-linejoin="round" textLength="36" lengthAdjust="spacingAndGlyphs">N</text>
<text x="168.9" y="399.6" font-size="39.5" fill="#fff" stroke="#fff" stroke-width="2.6" stroke-linejoin="round" textLength="67" lengthAdjust="spacingAndGlyphs">ews</text>
<text x="235.2" y="399.6" font-size="42" font-weight="bold" fill="#fff" stroke="#fff" stroke-width="2.6" stroke-linejoin="round" textLength="26.4" lengthAdjust="spacingAndGlyphs">T</text>
<text x="261.6" y="399.6" font-size="39.5" fill="#fff" stroke="#fff" stroke-width="2.6" stroke-linejoin="round" textLength="81.6" lengthAdjust="spacingAndGlyphs">oday</text>
<text x="87.0" y="399.6" font-size="42" font-weight="bold" fill="url(#wg)" textLength="24.9" lengthAdjust="spacingAndGlyphs">F</text>
<text x="133.95" y="399.6" font-size="42" font-weight="bold" fill="url(#wg)" textLength="36" lengthAdjust="spacingAndGlyphs">N</text>
<text x="168.9" y="399.6" font-size="39.5" fill="url(#wg)" stroke="#DCDCDC" stroke-width="0.8" textLength="67" lengthAdjust="spacingAndGlyphs">ews</text>
<text x="235.2" y="399.6" font-size="42" font-weight="bold" fill="url(#wg)" textLength="26.4" lengthAdjust="spacingAndGlyphs">T</text>
<text x="261.6" y="399.6" font-size="39.5" fill="url(#wg)" stroke="#DCDCDC" stroke-width="0.8" textLength="81.6" lengthAdjust="spacingAndGlyphs">oday</text>
<polyline points="111.9,377.3 119.8,387.2 132.5,377.3" fill="none" stroke="#F4DFDF" stroke-width="2.6" stroke-linecap="round" stroke-linejoin="round"/>
<polyline points="113.9,396.5 125.8,387.2 135.1,396.5" fill="none" stroke="#E0EFE0" stroke-width="2.6" stroke-linecap="round" stroke-linejoin="round"/>
</g>
<g shape-rendering="crispEdges" fill="#000">
<rect x="4" y="4" width="1234" height="1"/>
<rect x="4" y="464" width="1234" height="1"/>
<rect x="4" y="466" width="1234" height="1"/>
<rect x="4" y="544" width="1234" height="1"/>
<rect x="4" y="4" width="1" height="461"/>
<rect x="4" y="466" width="1" height="79"/>
<rect x="1237" y="4" width="1" height="461"/>
<rect x="1237" y="466" width="1" height="79"/>
<rect x="1238" y="468" width="1" height="1"/>
<rect x="1238" y="362" width="1" height="1"/>
<rect x="1238" y="32" width="2" height="1"/>
<rect x="1238" y="65" width="2" height="1"/>
<rect x="1238" y="98" width="2" height="1"/>
<rect x="1238" y="131" width="2" height="1"/>
<rect x="1238" y="164" width="2" height="1"/>
<rect x="1238" y="197" width="2" height="1"/>
<rect x="1238" y="230" width="2" height="1"/>
<rect x="1238" y="263" width="2" height="1"/>
<rect x="1238" y="296" width="2" height="1"/>
<rect x="1238" y="329" width="2" height="1"/>
<rect x="1238" y="395" width="2" height="1"/>
<rect x="1238" y="428" width="2" height="1"/>
<rect x="1238" y="461" width="2" height="1"/>
<rect x="5" y="545" width="1" height="3"/>
<rect x="69" y="545" width="1" height="3"/>
<rect x="133" y="545" width="1" height="3"/>
<rect x="197" y="545" width="1" height="3"/>
<rect x="261" y="545" width="1" height="3"/>
<rect x="325" y="545" width="1" height="3"/>
<rect x="389" y="545" width="1" height="3"/>
<rect x="453" y="545" width="1" height="3"/>
<rect x="517" y="545" width="1" height="3"/>
<rect x="581" y="545" width="1" height="3"/>
<rect x="645" y="545" width="1" height="3"/>
<rect x="709" y="545" width="1" height="3"/>
<rect x="773" y="545" width="1" height="3"/>
<rect x="837" y="545" width="1" height="3"/>
<rect x="901" y="545" width="1" height="3"/>
<rect x="965" y="545" width="1" height="3"/>
</g>
<polygon points="997,5 1006.5,5 1001.7,10" fill="#b4b4b4"/>
<polygon points="7.6,11 15.2,11 11.4,15.2" fill="#000"/>
<text x="20.4" y="16.3" font-size="10.4" fill="#000" textLength="53.2" lengthAdjust="spacingAndGlyphs" xml:space="preserve">BTCUSD,H4</text>
<text x="80.3" y="16.3" font-size="10.4" fill="#000" textLength="108.9" lengthAdjust="spacingAndGlyphs" xml:space="preserve">86228 86745 85740 86199</text>
<text x="1243.3" y="36.2" font-size="10" fill="#000" textLength="29.4" lengthAdjust="spacingAndGlyphs" xml:space="preserve">107050</text>
<text x="1243.3" y="69.2" font-size="10" fill="#000" textLength="29.4" lengthAdjust="spacingAndGlyphs" xml:space="preserve">104950</text>
<text x="1243.3" y="102.2" font-size="10" fill="#000" textLength="29.4" lengthAdjust="spacingAndGlyphs" xml:space="preserve">102910</text>
<text x="1243.3" y="135.2" font-size="10" fill="#000" textLength="29.4" lengthAdjust="spacingAndGlyphs" xml:space="preserve">100810</text>
<text x="1243.3" y="168.2" font-size="10" fill="#000" textLength="24.5" lengthAdjust="spacingAndGlyphs" xml:space="preserve">98770</text>
<text x="1243.3" y="201.2" font-size="10" fill="#000" textLength="24.5" lengthAdjust="spacingAndGlyphs" xml:space="preserve">96670</text>
<text x="1243.3" y="234.2" font-size="10" fill="#000" textLength="24.5" lengthAdjust="spacingAndGlyphs" xml:space="preserve">94570</text>
<text x="1243.3" y="267.2" font-size="10" fill="#000" textLength="24.5" lengthAdjust="spacingAndGlyphs" xml:space="preserve">92530</text>
<text x="1243.3" y="300.2" font-size="10" fill="#000" textLength="24.5" lengthAdjust="spacingAndGlyphs" xml:space="preserve">90430</text>
<text x="1243.3" y="333.2" font-size="10" fill="#000" textLength="24.5" lengthAdjust="spacingAndGlyphs" xml:space="preserve">88330</text>
<text x="1243.3" y="399.2" font-size="10" fill="#000" textLength="24.5" lengthAdjust="spacingAndGlyphs" xml:space="preserve">84190</text>
<text x="1243.3" y="432.2" font-size="10" fill="#000" textLength="24.5" lengthAdjust="spacingAndGlyphs" xml:space="preserve">82090</text>
<text x="1243.3" y="465.2" font-size="10" fill="#000" textLength="24.5" lengthAdjust="spacingAndGlyphs" xml:space="preserve">80050</text>
<rect x="1239" y="312" width="33" height="11" fill="#DC143C" shape-rendering="crispEdges"/>
<text x="1243.3" y="321.2" font-size="10" fill="#fff" textLength="24.5" lengthAdjust="spacingAndGlyphs" xml:space="preserve">89050</text>
<rect x="1239" y="358" width="33" height="11" fill="#000" shape-rendering="crispEdges"/>
<text x="1243.3" y="367.2" font-size="10" fill="#fff" textLength="24.5" lengthAdjust="spacingAndGlyphs" xml:space="preserve">86199</text>
<rect x="1239" y="366" width="33" height="11" fill="#3CB371" shape-rendering="crispEdges"/>
<text x="1243.3" y="375.2" font-size="10" fill="#fff" textLength="24.5" lengthAdjust="spacingAndGlyphs" xml:space="preserve">85654</text>
<rect x="1239" y="435" width="33" height="11" fill="#3CB371" shape-rendering="crispEdges"/>
<text x="1243.3" y="444.2" font-size="10" fill="#fff" textLength="24.5" lengthAdjust="spacingAndGlyphs" xml:space="preserve">81316</text>
<text x="1240.9" y="477" font-size="10" fill="#000" textLength="14.7" lengthAdjust="spacingAndGlyphs" xml:space="preserve">100</text>
<text x="1240.3" y="487" font-size="10" fill="#000" textLength="9.8" lengthAdjust="spacingAndGlyphs" xml:space="preserve">80</text>
<text x="1240.3" y="531.7" font-size="10" fill="#000" textLength="9.8" lengthAdjust="spacingAndGlyphs" xml:space="preserve">20</text>
<text x="1240.9" y="541" font-size="10" fill="#000" textLength="4.9" lengthAdjust="spacingAndGlyphs" xml:space="preserve">0</text>
<text x="4.3" y="557" font-size="10" fill="#000" textLength="48.8" lengthAdjust="spacingAndGlyphs" xml:space="preserve">6 Nov 2025</text>
<text x="68.3" y="557" font-size="10" fill="#000" textLength="51.5" lengthAdjust="spacingAndGlyphs" xml:space="preserve">9 Nov 12:00</text>
<text x="132.3" y="557" font-size="10" fill="#000" textLength="56.8" lengthAdjust="spacingAndGlyphs" xml:space="preserve">12 Nov 04:00</text>
<text x="196.3" y="557" font-size="10" fill="#000" textLength="56.8" lengthAdjust="spacingAndGlyphs" xml:space="preserve">14 Nov 20:00</text>
<text x="260.3" y="557" font-size="10" fill="#000" textLength="56.8" lengthAdjust="spacingAndGlyphs" xml:space="preserve">17 Nov 12:00</text>
<text x="324.3" y="557" font-size="10" fill="#000" textLength="56.8" lengthAdjust="spacingAndGlyphs" xml:space="preserve">20 Nov 04:00</text>
<text x="388.3" y="557" font-size="10" fill="#000" textLength="56.8" lengthAdjust="spacingAndGlyphs" xml:space="preserve">22 Nov 20:00</text>
<text x="452.3" y="557" font-size="10" fill="#000" textLength="56.8" lengthAdjust="spacingAndGlyphs" xml:space="preserve">25 Nov 12:00</text>
<text x="516.3" y="557" font-size="10" fill="#000" textLength="56.8" lengthAdjust="spacingAndGlyphs" xml:space="preserve">28 Nov 04:00</text>
<text x="580.3" y="557" font-size="10" fill="#000" textLength="56.8" lengthAdjust="spacingAndGlyphs" xml:space="preserve">30 Nov 20:00</text>
<text x="644.3" y="557" font-size="10" fill="#000" textLength="50.0" lengthAdjust="spacingAndGlyphs" xml:space="preserve">3 Dec 12:00</text>
<text x="708.3" y="557" font-size="10" fill="#000" textLength="50.0" lengthAdjust="spacingAndGlyphs" xml:space="preserve">6 Dec 04:00</text>
<text x="772.3" y="557" font-size="10" fill="#000" textLength="50.0" lengthAdjust="spacingAndGlyphs" xml:space="preserve">8 Dec 20:00</text>
<text x="836.3" y="557" font-size="10" fill="#000" textLength="54.5" lengthAdjust="spacingAndGlyphs" xml:space="preserve">11 Dec 12:00</text>
<text x="900.3" y="557" font-size="10" fill="#000" textLength="55.2" lengthAdjust="spacingAndGlyphs" xml:space="preserve">14 Dec 04:00</text>
<text x="964.3" y="557" font-size="10" fill="#000" textLength="55.2" lengthAdjust="spacingAndGlyphs" xml:space="preserve">16 Dec 20:00</text>
</svg>
</body></html>
